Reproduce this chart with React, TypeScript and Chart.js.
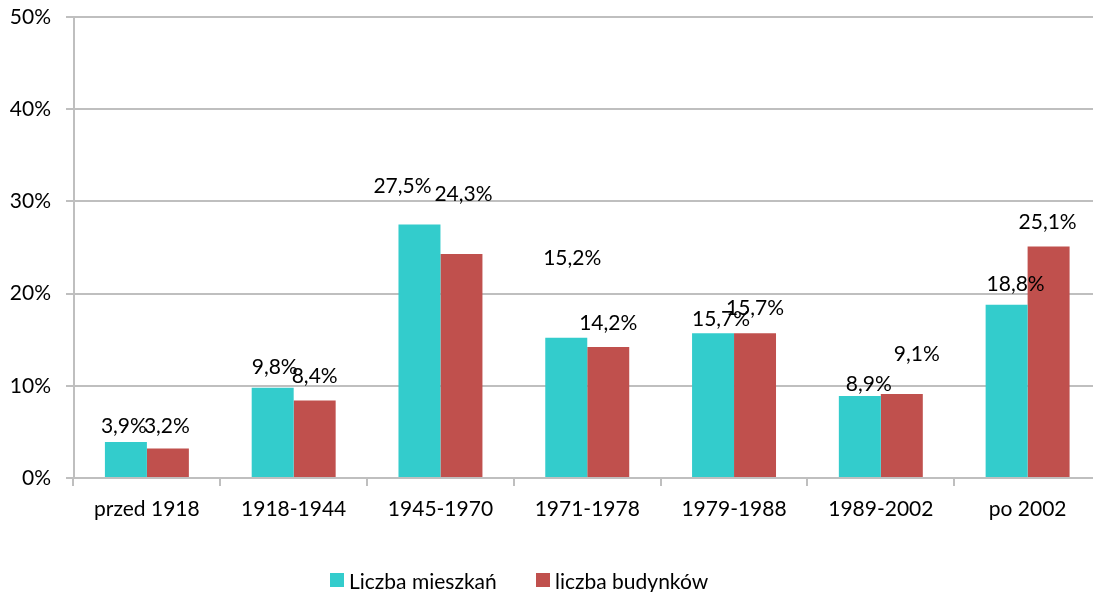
import React, { useEffect, useRef } from "react";
import { Chart, registerables } from "chart.js";

Chart.register(...registerables);

const categories = ["przed 1918", "1918-1944", "1945-1970", "1971-1978", "1979-1988", "1989-2002", "po 2002"];
const mieszkan = [3.9, 9.8, 27.5, 15.2, 15.7, 8.9, 18.8];
const budynkow = [3.2, 8.4, 24.3, 14.2, 15.7, 9.1, 25.1];
const seriesNames = ["Liczba mieszkań", "liczba budynków"];
const yTicks = [0, 10, 20, 30, 40, 50];

// label nudges (dx, dy from bar top centre) to mimic the original placement
const labelNudgeA = [[-2, -16], [2, -20], [-17, -38], [6, -80], [8, -14], [9, -12], [9, -20]];
const labelNudgeB = [[-1, -22], [0, -24], [2, -60], [0, -24], [0, -25], [15, -40], [-1, -24]];

const TEAL = "#33CCCC";
const RED = "#C0504D";
const GRID = "#BFBFBF";
const FONT = "Lato, 'Open Sans', sans-serif";
const FS = 21;

const fmt = (v: number) => v.toFixed(1).replace(".", ",") + "%";

const labelPlugin = {
  id: "barLabels",
  afterDatasetsDraw(chart: any) {
    const ctx = chart.ctx;
    ctx.save();
    ctx.font = `${FS}px ${FONT}`;
    ctx.fillStyle = "#000";
    ctx.textAlign = "center";
    ctx.textBaseline = "middle";
    chart.data.datasets.forEach((ds: any, di: number) => {
      const meta = chart.getDatasetMeta(di);
      const nudges = di === 0 ? labelNudgeA : labelNudgeB;
      meta.data.forEach((bar: any, i: number) => {
        const [dx, dy] = nudges[i];
        ctx.fillText(fmt(ds.data[i]), bar.x + dx, bar.y + dy);
      });
    });
    ctx.restore();
  },
};

export default function App() {
  const ref = useRef<HTMLCanvasElement>(null);
  useEffect(() => {
    if (!ref.current) return;
    const chart = new Chart(ref.current, {
      type: "bar",
      data: {
        labels: categories,
        datasets: [
          { label: seriesNames[0], data: mieszkan, backgroundColor: TEAL, categoryPercentage: 0.572, barPercentage: 1 },
          { label: seriesNames[1], data: budynkow, backgroundColor: RED, categoryPercentage: 0.572, barPercentage: 1 },
        ],
      },
      options: {
        animation: false,
        responsive: false,
        layout: { padding: { top: 17, right: 9, left: 0, bottom: 0 } },
        plugins: { legend: { display: false }, tooltip: { enabled: false } },
        scales: {
          x: {
            offset: true,
            grid: { display: true, drawOnChartArea: false, drawTicks: true, tickLength: 8, color: GRID, lineWidth: 2, offset: true },
            border: { display: true, color: GRID, width: 2 },
            ticks: { font: { family: FONT, size: FS }, color: "#000", padding: 11, maxRotation: 0, autoSkip: false },
            afterFit: (s: any) => { s.height = 114; s.paddingLeft = 0; s.paddingRight = 0; },
          },
          y: {
            min: 0,
            max: 50,
            afterBuildTicks: (s: any) => { s.ticks = yTicks.map((v) => ({ value: v })); },
            grid: { color: GRID, lineWidth: 2, tickLength: 7.5 },
            border: { display: true, color: GRID, width: 2 },
            ticks: { font: { family: FONT, size: FS }, color: "#000", padding: 15, callback: (v: any) => v + "%" },
            afterFit: (s: any) => { s.width = 73.5; s.paddingTop = 0; s.paddingBottom = 0; },
          },
        },
      },
      plugins: [labelPlugin],
    });
    return () => chart.destroy();
  }, []);

  const legendItem = (color: string, text: string, left: number) => (
    <div style={{ position: "absolute", left, top: 566, display: "flex", alignItems: "center", height: 28 }}>
      <span style={{ display: "inline-block", width: 14, height: 14, background: color, marginRight: 5 }} />
      <span style={{ fontFamily: FONT, fontSize: FS, color: "#000", whiteSpace: "nowrap" }}>{text}</span>
    </div>
  );

  return (
    <div style={{ position: "fixed", left: 0, top: 0, width: 1093, height: 592, overflow: "hidden", background: "#fff" }}>
      <canvas ref={ref} width={1110} height={592} style={{ display: "block" }} />
      {legendItem(TEAL, seriesNames[0], 330)}
      {legendItem(RED, seriesNames[1], 536)}
    </div>
  );
}
